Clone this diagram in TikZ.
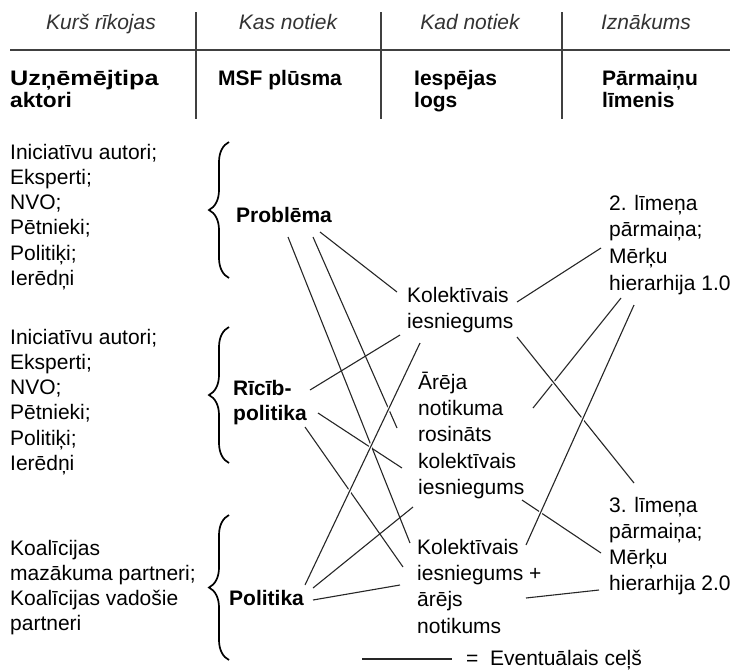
\documentclass[tikz,border=0pt]{standalone}
\usepackage{fontspec}
\setmainfont{Liberation Sans}
\usetikzlibrary{decorations.pathreplacing}
\newcommand{\mylines}[1]{\begin{tabular}[t]{@{}l@{}}#1\end{tabular}}
\begin{document}
\begin{tikzpicture}[x=1pt,y=-1pt,
  txt/.style={anchor=base west,inner sep=0pt,font=\fontsize{21}{25.3}\selectfont},
  mid/.style={txt,font=\fontsize{21}{26.4}\selectfont},
  head/.style={anchor=base,inner sep=0pt,font=\fontsize{21}{25}\selectfont\itshape,text=black!80},
  bold/.style={txt,font=\fontsize{21}{22}\selectfont\bfseries},
  rule/.style={line width=1.8pt,draw=black!75},
  link/.style={line width=1.1pt,draw=black!85},
  halo/.style={link,preaction={draw=white,line width=3.5pt}},
  bracestyle/.style={decorate,decoration={brace,amplitude=20pt,aspect=0.5},line width=1.7pt}]
\useasboundingbox (0,0) rectangle (738,670);
% header
\node[head] (h1) at (101,29) {Kurš rīkojas};
\node[head] (h2) at (288,29) {Kas notiek};
\node[head] (h3) at (470,29) {Kad notiek};
\node[head] (h4) at (646,29) {Iznākums};
\coordinate (hl) at (10,50); \coordinate (hr) at (730,50);
\draw[rule] (hl) -- (hr);
\foreach \x/\n in {196/a,381/b,562/c}{
  \coordinate (v\n t) at (\x,12); \coordinate (v\n b) at (\x,119);
  \draw[rule] (v\n t) -- (v\n b);}
\node[bold] (b1) at (10,85) {\mylines{\scalebox{1.2}[1]{Uzņēmējtipa}\\\scalebox{1.08}[1]{aktori}}};
\node[bold] (b2) at (218,85) {MSF plūsma};
\node[bold] (b3) at (414,85) {\mylines{Iespējas\\logs}};
\node[bold] (b4) at (602,85) {\mylines{Pārmaiņu\\līmenis}};
% left column
\node[txt] (g1) at (10,159) {\mylines{Iniciatīvu autori;\\Eksperti;\\NVO;\\Pētnieki;\\Politiķi;\\Ierēdņi}};
\node[txt] (g2) at (10,344) {\mylines{Iniciatīvu autori;\\Eksperti;\\NVO;\\Pētnieki;\\Politiķi;\\Ierēdņi}};
\node[txt] (g3) at (10,555) {\mylines{Koalīcijas\\mazākuma partneri;\\Koalīcijas vadošie\\partneri}};
% braces
\coordinate (br1b) at (229,278); \coordinate (br1t) at (229,142);
\coordinate (br2b) at (229,463); \coordinate (br2t) at (229,327);
\coordinate (br3b) at (229,660); \coordinate (br3t) at (229,515);
\draw[bracestyle] (br1b) -- (br1t);
\draw[bracestyle] (br2b) -- (br2t);
\draw[bracestyle] (br3b) -- (br3t);
% MSF streams
\node[bold] (prob) at (236,222) {Problēma};
\node[bold,font=\fontsize{21}{25}\selectfont\bfseries] (ricib) at (233,395) {\mylines{Rīcīb-\\politika}};
\node[bold] (pol) at (229,605) {Politika};
% windows
\node[mid] (kol) at (407,302) {\mylines{Kolektīvais\\iesniegums}};
\node[mid] (arej) at (418,389) {\mylines{Ārēja\\notikuma\\rosināts\\kolektīvais\\iesniegums}};
\node[mid] (kolp) at (417,554) {\mylines{Kolektīvais\\iesniegums +\\ārējs\\notikums}};
% outcomes
\node[mid,font=\fontsize{21}{26.7}\selectfont] (l2) at (609,210) {\mylines{2. līmeņa\\pārmaiņa;\\Mērķu\\hierarhija 1.0}};
\node[mid,font=\fontsize{21}{26}\selectfont] (l3) at (609,512) {\mylines{3. līmeņa\\pārmaiņa;\\Mērķu\\hierarhija 2.0}};
% connector end points
\coordinate (pA) at (288,237); \coordinate (kpA) at (410,543);
\coordinate (pB) at (313,237); \coordinate (aB) at (397,428);
\coordinate (pP) at (320,232); \coordinate (kP) at (397,292);
\coordinate (rC) at (310,390); \coordinate (kC) at (400,335);
\coordinate (kD) at (420,343); \coordinate (plD) at (305,585);
\coordinate (rE) at (318,413); \coordinate (aE) at (402,468);
\coordinate (rF) at (305,427); \coordinate (kpF) at (403,567);
\coordinate (plG) at (313,588); \coordinate (aG) at (413,507);
\coordinate (plH) at (313,600); \coordinate (kpH) at (400,585);
\coordinate (kI) at (517,302); \coordinate (lI) at (601,248);
\coordinate (kJ) at (517,337); \coordinate (lJ) at (634,483);
\coordinate (lK) at (621,298); \coordinate (aK) at (533,408);
\coordinate (lL) at (634,305); \coordinate (kpL) at (526,545);
\coordinate (aM) at (522,500); \coordinate (lM) at (601,553);
\coordinate (kpN) at (526,598); \coordinate (lN) at (599,590);
% connectors
\draw[link] (rE) -- (aE);
\draw[link] (rF) -- (kpF);
\draw[link] (lK) -- (aK);
\draw[link] (plG) -- (aG);
\draw[link] (plH) -- (kpH);
\draw[link] (pB) -- (aB);
\draw[link] (pP) -- (kP);
\draw[link] (rC) -- (kC);
\draw[link] (kI) -- (lI);
\draw[link] (aM) -- (lM);
\draw[link] (kpN) -- (lN);
\draw[link] (pA) -- (kpA);
\draw[halo] (kD) -- (plD);
\draw[halo] (kJ) -- (lJ);
\draw[halo] (lL) -- (kpL);
% legend
\coordinate (lg1) at (362,659); \coordinate (lg2) at (452,659);
\draw[link] (lg1) -- (lg2);
\node[txt] (leg) at (466,665) {=\ \ Eventuālais ceļš};
\end{tikzpicture}
\end{document}
